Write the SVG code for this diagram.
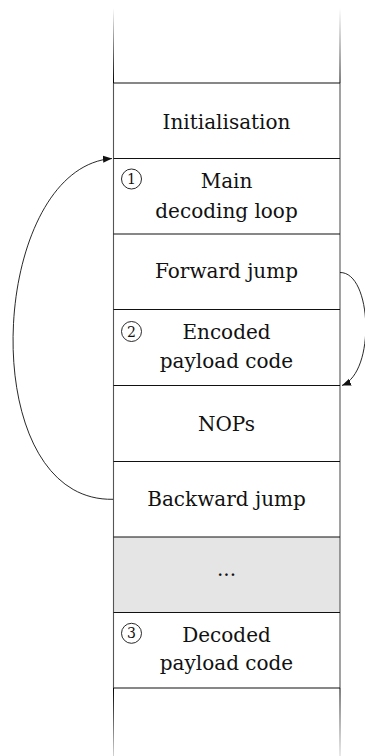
<svg xmlns="http://www.w3.org/2000/svg" width="365" height="756" viewBox="0 0 365 756">
<style>
.lbl{font-family:"DejaVu Serif","Liberation Serif",serif;font-size:20px;fill:#111;text-anchor:middle}
.num{font-family:"DejaVu Serif","Liberation Serif",serif;font-size:14px;fill:#111;text-anchor:middle}
.sep{stroke:#111;stroke-width:1.1}
.side{stroke:#555;stroke-width:1.1}
.circ{fill:none;stroke:#111;stroke-width:0.9}
.arr{fill:none;stroke:#111;stroke-width:0.9}
</style>
<defs>
<linearGradient id="fadeTop" gradientUnits="userSpaceOnUse" x1="0" y1="8" x2="0" y2="83">
<stop offset="0" stop-color="#000" stop-opacity="0"/>
<stop offset="1" stop-color="#000" stop-opacity="1"/>
</linearGradient>
<linearGradient id="fadeBot" gradientUnits="userSpaceOnUse" x1="0" y1="688" x2="0" y2="770">
<stop offset="0" stop-color="#000" stop-opacity="1"/>
<stop offset="1" stop-color="#000" stop-opacity="0"/>
</linearGradient>
<marker id="ah" viewBox="0 0 10 10" refX="10" refY="5" markerWidth="9" markerHeight="9" markerUnits="userSpaceOnUse" orient="auto">
<path d="M0,1 L10,5 L0,9 Z" fill="#111"/>
</marker>
</defs>
<g id="memory-top">
<line x1="113.5" y1="8" x2="113.5" y2="83" stroke="url(#fadeTop)" stroke-width="1"/>
<line x1="340" y1="8" x2="340" y2="83" stroke="url(#fadeTop)" stroke-width="1"/>
</g>
<g id="ellipsis">
<rect x="113.5" y="537" width="226.5" height="75.5" fill="#e5e5e5"/>
<text class="lbl" x="226.5" y="576">...</text>
</g>
<g id="column">
<line class="side" x1="113.5" y1="83" x2="113.5" y2="688"/>
<line class="side" x1="340" y1="83" x2="340" y2="688"/>
<line class="sep" x1="113.5" y1="83" x2="340" y2="83"/>
<line class="sep" x1="113.5" y1="158.5" x2="340" y2="158.5"/>
<line class="sep" x1="113.5" y1="234" x2="340" y2="234"/>
<line class="sep" x1="113.5" y1="309.5" x2="340" y2="309.5"/>
<line class="sep" x1="113.5" y1="385.5" x2="340" y2="385.5"/>
<line class="sep" x1="113.5" y1="461.5" x2="340" y2="461.5"/>
<line class="sep" x1="113.5" y1="537" x2="340" y2="537"/>
<line class="sep" x1="113.5" y1="612.5" x2="340" y2="612.5"/>
<line class="sep" x1="113.5" y1="688" x2="340" y2="688"/>
</g>
<g id="initialisation">
<text class="lbl" x="226.5" y="129.3">Initialisation</text>
</g>
<g id="main-loop">
<circle class="circ" cx="131.5" cy="179" r="10"/>
<text class="num" x="131.5" y="184">1</text>
<text class="lbl" x="226.5" y="188.3">Main</text>
<text class="lbl" x="226.5" y="218.3">decoding loop</text>
</g>
<g id="forward-jump">
<text class="lbl" x="226.5" y="278.3">Forward jump</text>
</g>
<g id="encoded">
<circle class="circ" cx="131.5" cy="331.5" r="10"/>
<text class="num" x="131.5" y="336.5">2</text>
<text class="lbl" x="226.5" y="339.3">Encoded</text>
<text class="lbl" x="226.5" y="368.3">payload code</text>
</g>
<g id="nops">
<text class="lbl" x="226.5" y="430.7">NOPs</text>
</g>
<g id="backward-jump">
<text class="lbl" x="226.5" y="505.7">Backward jump</text>
</g>
<g id="decoded">
<circle class="circ" cx="131.5" cy="633.3" r="10"/>
<text class="num" x="131.5" y="638.3">3</text>
<text class="lbl" x="226.5" y="641.7">Decoded</text>
<text class="lbl" x="226.5" y="670">payload code</text>
</g>
<g id="memory-bottom">
<line x1="113.5" y1="688" x2="113.5" y2="756" stroke="url(#fadeBot)" stroke-width="1"/>
<line x1="340" y1="688" x2="340" y2="756" stroke="url(#fadeBot)" stroke-width="1"/>
</g>
<g id="connectors">
<path class="arr" d="M113,499.3 C-28,502 -12,168 112,158.5" marker-end="url(#ah)"/>
<path class="arr" d="M340,272.5 C372,272 376,372 342,385.5" marker-end="url(#ah)"/>
</g>
</svg>
